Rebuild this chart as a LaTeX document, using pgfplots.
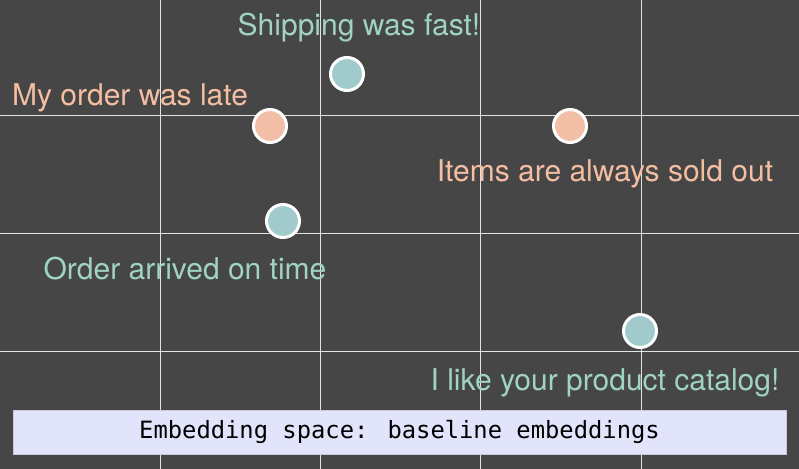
\documentclass[border=0pt]{standalone}
\usepackage{pgfplots}
\pgfplotsset{compat=1.18}
\usepackage{fontspec}
\setmainfont{TeX Gyre Heros}
\newfontfamily\monofont{DejaVu Sans Mono}
\definecolor{bg}{HTML}{464646}
\definecolor{tealfill}{HTML}{A0CACC}
\definecolor{tealtext}{HTML}{A0D3C4}
\definecolor{peachfill}{HTML}{F3BEA6}
\definecolor{peachtext}{HTML}{F4BEA2}
\definecolor{boxfill}{HTML}{E1E4FA}
\definecolor{boxdraw}{HTML}{C8C8D2}
\begin{document}
\begin{tikzpicture}
\begin{axis}[
  width=799bp, height=469bp, scale only axis,
  xmin=0, xmax=799, ymin=0, ymax=469, y dir=reverse,
  axis background/.style={fill=bg},
  axis line style={draw=none},
  xtick={160.3,320.5,480.8,641}, ytick={115,233,351},
  xticklabels={}, yticklabels={},
  major tick length=0pt,
  xmajorgrids, ymajorgrids,
  grid style={white, line width=0.9bp, opacity=0.85},
  clip=false,
]
\addplot[only marks, mark=*, mark size=16.5bp,
  mark options={fill=tealfill, draw=white, line width=3bp}]
  coordinates {(347,74) (283,221) (640,331)};
\addplot[only marks, mark=*, mark size=16.5bp,
  mark options={fill=peachfill, draw=white, line width=3bp}]
  coordinates {(270,126) (570,126)};
\begin{scope}[font=\fontsize{30bp}{34bp}\selectfont]
\node[tealtext, anchor=base] at (axis cs:359,36) {Shipping was fast!};
\node[peachtext, anchor=base] at (axis cs:130,106) {My order was late};
\node[peachtext, anchor=base] at (axis cs:605,181) {Items are always sold out};
\node[tealtext, anchor=base] at (axis cs:185,279) {Order arrived on time};
\node[tealtext, anchor=base] at (axis cs:605,390) {I like your product catalog!};
\end{scope}
\node[fill=boxfill, draw=boxdraw, line width=1bp, inner sep=0pt,
  minimum width=773bp, minimum height=44bp,
  font=\monofont\fontsize{23.8bp}{26bp}\selectfont]
  at (axis cs:399.5,432) {Embedding space: baseline embeddings};
\end{axis}
\pgfresetboundingbox
\useasboundingbox (current axis.south west) rectangle (current axis.north east);
\end{tikzpicture}
\end{document}
